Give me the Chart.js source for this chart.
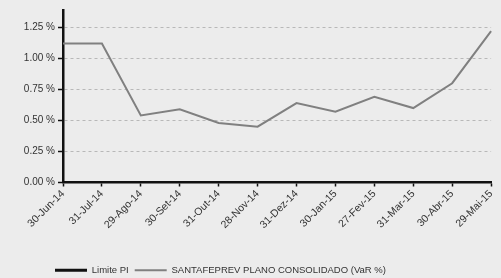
<!DOCTYPE html>
<html>
<head>
<meta charset="utf-8">
<script src="https://cdn.jsdelivr.net/npm/chart.js@4/dist/chart.umd.min.js"></script>
<style>
  html, body { margin: 0; padding: 0; background: #ececec; }
  #wrap { width: 501px; height: 278px; }
</style>
</head>
<body>
<div id="wrap"><canvas id="varChart" width="501" height="278"></canvas></div>
<script>
// data
const datas = ['30-Jun-14', '31-Jul-14', '29-Ago-14', '30-Set-14', '31-Out-14', '28-Nov-14',
  '31-Dez-14', '30-Jan-15', '27-Fev-15', '31-Mar-15', '30-Abr-15', '29-Mai-15'];
const varPlano = [1.12, 1.12, 0.54, 0.59, 0.48, 0.45, 0.64, 0.57, 0.69, 0.60, 0.80, 1.22];
const limitePI = []; // only shows up in the legend
const yTicks = [0, 0.25, 0.5, 0.75, 1.0, 1.25];

const fontFam = "'Liberation Sans', Arial, sans-serif";

// background colour
const bgPlugin = {
  id: 'bg',
  beforeDraw: (chart) => {
    const ctx = chart.ctx;
    ctx.save();
    ctx.fillStyle = '#ececec';
    ctx.fillRect(0, 0, chart.width, chart.height);
    ctx.restore();
    // move legend so it starts under the y axis, a bit lower
    chart.legend.left = 49;
    chart.legend.top = chart.legend.top + 7;
  }
};

const config = {
  type: 'line',
  data: {
    labels: datas,
    datasets: [
      {
        label: 'Limite PI',
        data: limitePI,
        borderColor: '#111111',
        backgroundColor: '#111111',
        borderWidth: 3,
        pointRadius: 0
      },
      {
        label: 'SANTAFEPREV PLANO CONSOLIDADO (VaR %)',
        data: varPlano,
        borderColor: '#808080',
        backgroundColor: '#808080',
        borderWidth: 2,
        pointRadius: 0,
        tension: 0
      }
    ]
  },
  options: {
    responsive: false,
    animation: false,
    layout: { padding: { left: 0, right: 5, top: 10, bottom: 0 } },
    scales: {
      x: {
        offset: false,
        grid: { drawOnChartArea: false, tickLength: 4, tickColor: '#111', tickWidth: 1.5 },
        border: { color: '#111', width: 2.5 },
        ticks: {
          minRotation: 45, maxRotation: 45, autoSkip: false,
          color: '#333', padding: 1,
          font: { family: fontFam, size: 10.5 }
        },
        afterFit: (scale) => { scale.height = 70; }
      },
      y: {
        min: 0,
        max: 1.39,
        afterBuildTicks: (scale) => {
          scale.ticks = yTicks.map(v => ({ value: v }));
        },
        grid: { color: '#b8b8b8', lineWidth: 1, tickLength: 5, tickColor: '#111', tickWidth: 1.5 },
        border: { color: '#111', width: 2.5, dash: [3, 3] },
        ticks: {
          color: '#333', padding: 3,
          font: { family: fontFam, size: 10 },
          callback: (v) => v.toFixed(2) + ' %'
        },
        afterFit: (scale) => { scale.width = 63; }
      }
    },
    plugins: {
      legend: {
        position: 'bottom',
        align: 'start',
        labels: {
          usePointStyle: true,
          pointStyle: 'line',
          pointStyleWidth: 32,
          padding: 6,
          color: '#333',
          font: { family: fontFam, size: 9.5 }
        }
      },
      tooltip: { enabled: false }
    }
  },
  plugins: [bgPlugin]
};

const myVarChart = new Chart(document.getElementById('varChart'), config);
</script>
</body>
</html>
